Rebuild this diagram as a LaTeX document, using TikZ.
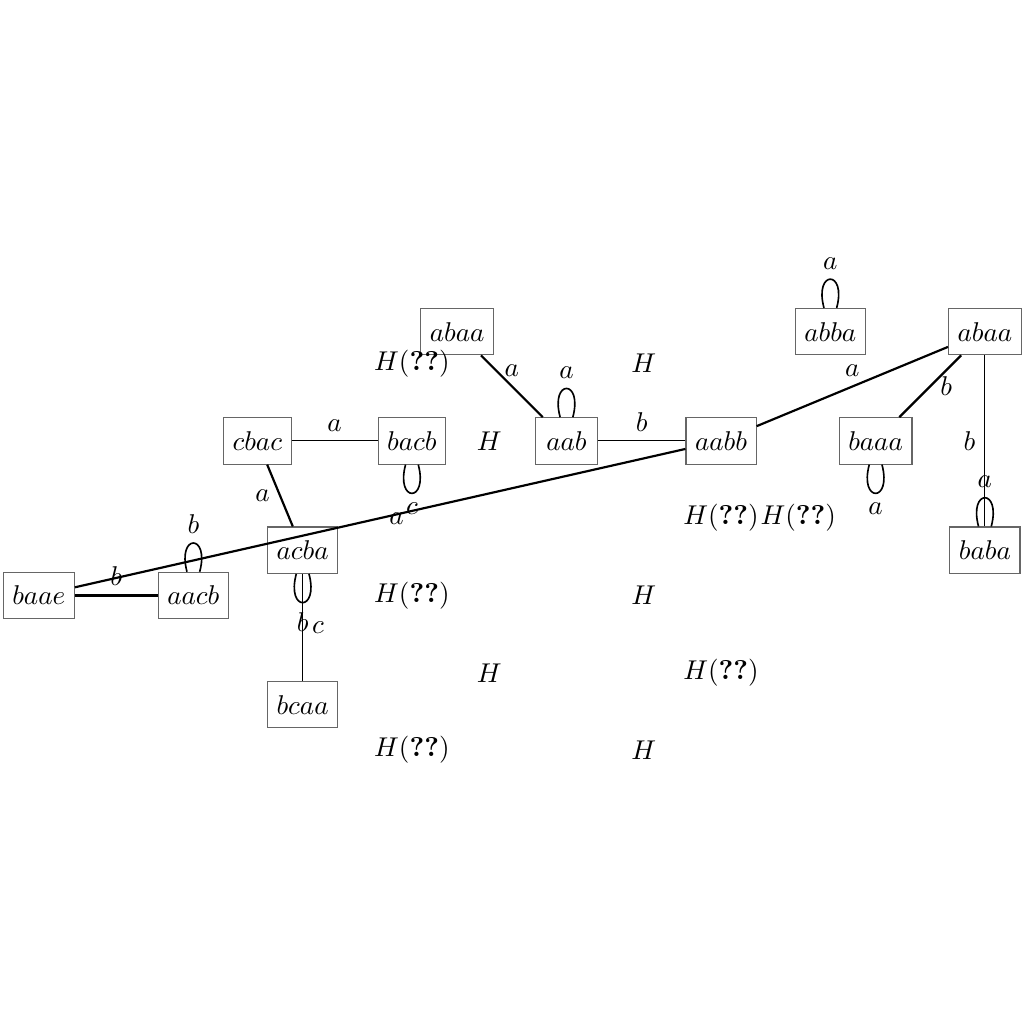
\documentclass[tikz,border=0pt]{standalone}
\begin{document}
\begin{tikzpicture}
	  [
	    state/.style            = {draw=black!60, minimum width=8mm, minimum height=6mm},
	    link/.style             = {draw, thick},
	    every loop/.style       = {semithick}
		]
	  \useasboundingbox (-7.33,-7.54) rectangle (5.92,5.705);
	  \node [state] (aab)   at (0,0)            {$aab$};
	  \node [state] (aabb)  at (2,0)            {$aabb$};
	  \node [state] (bacb)  at (-2,0)           {$bacb$};
	  \node [state] (cbac)  at (-4,0)           {$cbac$};
	  \node [state] (abaaL) at (-1.414,1.414)   {$abaa$};
	  \node [state] (abba)  at (3.414,1.414)    {$abba$};
	  \node [state] (abaaR) at (5.414,1.414)    {$abaa$};
	  \node [state] (baaa)  at (4,0)            {$baaa$};
	  \node [state] (baba)  at (5.414,-1.414)   {$baba$};
	  \node [state] (acba)  at (-3.414,-1.414)  {$acba$};
	  \node [state] (bcaa)  at (-3.414,-3.414)  {$bcaa$};
	  \node [state] (aacb)  at (-4.828,-2)      {$aacb$};
	  \node [state] (baae)  at (-6.828,-2)      {$baae$};

	  \node (h1)  at (-2,1)  {$H(\textbf{??})$};
	  \node (h2)  at (1,1)   {$H$};
	  \node (h3)  at (-1,0)  {$H$};
	  \node (h4)  at (2,-1)  {$H(\textbf{??})$};
	  \node (h5)  at (3,-1)  {$H(\textbf{??})$};
	  \node (h6)  at (-2,-2) {$H(\textbf{??})$};
	  \node (h7)  at (1,-2)  {$H$};
	  \node (h8)  at (-1,-3) {$H$};
	  \node (h9)  at (2,-3)  {$H(\textbf{??})$};
	  \node (h10) at (-2,-4) {$H(\textbf{??})$};
	  \node (h11) at (1,-4)  {$H$};

	  \draw (cbac) -- node [above] {$a$} (bacb);
	  \draw (aab) -- node [above] {$b$} (aabb);
	  \draw (acba) -- node [right] {$c$} (bcaa);
	  \draw (abaaR) -- node [left] {$b$} (baba);
	  \draw [link] (cbac) -- node [left] {$a$} (acba);
	  \draw [link] (abaaL) -- node [above] {$a$} (aab);
	  \draw [link] (aabb) -- node [above] {$a$} (abaaR);
	  \draw [link] (abaaR) -- node [right] {$b$} (baaa);
	  \draw [link] (baae) -- node [above] {$b$} (aacb);
	  \draw [link] (baae) -- node [pos=0.527, yshift=-1.5pt] {$a$} (aabb);

	  \path (aab)  edge [loop above] node {$a$} (aab)
	        (abba) edge [loop above] node {$a$} (abba)
	        (baba) edge [loop above] node {$a$} (baba)
	        (aacb) edge [loop above] node {$b$} (aacb)
	        (bacb) edge [loop below] node {$c$} (bacb)
	        (acba) edge [loop below] node {$b$} (acba)
	        (baaa) edge [loop below] node {$a$} (baaa);
	\end{tikzpicture}
\end{document}
